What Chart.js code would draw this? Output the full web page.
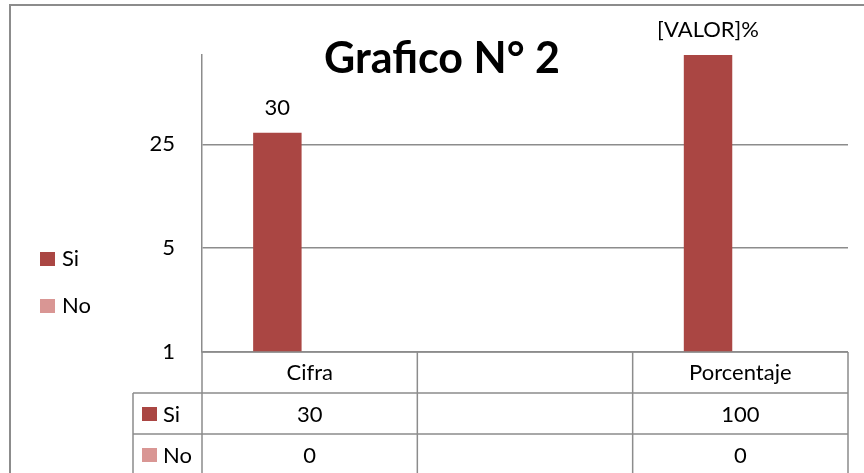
<!DOCTYPE html>
<html>
<head>
<meta charset="utf-8">
<script src="https://cdn.jsdelivr.net/npm/chart.js@4.4.0/dist/chart.umd.min.js"></script>
<style>
html, body { margin: 0; padding: 0; background: #fff; }
</style>
</head>
<body>
<canvas id="chart" width="864" height="473"></canvas>
<script>
// chart data
const categories = ['Cifra', '', 'Porcentaje'];
const siValues = [30, null, 100];
const noValues = [0, null, 0];
const siLabels = ['30', '', '[VALOR]%'];
const yTicks = [1, 5, 25];
const seriesNames = ['Si', 'No'];
const seriesColors = ['#AA4643', '#D99694'];
const titleText = 'Grafico N° 2';

const FONT = 'Lato, Carlito, "Open Sans", sans-serif';
const LINE = '#8C8C8C';
const TXT = 22;

// title, labels, side legend and the data table under the plot
const extras = {
    id: 'extras',
    afterDraw(chart) {
        const ctx = chart.ctx;
        const area = chart.chartArea;
        const x = chart.scales.x;
        ctx.save();

        // outer border
        ctx.strokeStyle = LINE;
        ctx.lineWidth = 2;
        ctx.beginPath();
        ctx.moveTo(10, 473); ctx.lineTo(10, 5); ctx.lineTo(864, 5);
        ctx.stroke();

        // title
        ctx.fillStyle = '#000';
        ctx.textAlign = 'center';
        ctx.textBaseline = 'alphabetic';
        ctx.font = 'bold 43px ' + FONT;
        ctx.fillText(titleText, 442, 73);

        // value labels above bars
        ctx.font = TXT + 'px ' + FONT;
        chart.getDatasetMeta(0).data.forEach((bar, i) => {
            if (siValues[i] == null) return;
            ctx.fillText(siLabels[i], bar.x, bar.y - 18);
        });

        // side legend
        ctx.textAlign = 'left';
        seriesNames.forEach((name, i) => {
            const y = 252 + i * 47;
            ctx.fillStyle = seriesColors[i];
            ctx.fillRect(40, y, 15, 14);
            ctx.fillStyle = '#000';
            ctx.fillText(name, 62, y + 14);
        });

        // data table
        const colW = (area.right - area.left) / categories.length;
        const rows = [area.bottom, area.bottom + 41, area.bottom + 82, 473];
        const tableLeft = 133;
        ctx.strokeStyle = LINE;
        ctx.lineWidth = 1.5;
        ctx.beginPath();
        ctx.moveTo(area.left, rows[0]); ctx.lineTo(area.right, rows[0]);
        ctx.moveTo(tableLeft, rows[1]); ctx.lineTo(area.right, rows[1]);
        ctx.moveTo(tableLeft, rows[2]); ctx.lineTo(area.right, rows[2]);
        ctx.moveTo(tableLeft, rows[1]); ctx.lineTo(tableLeft, rows[3]);
        for (let i = 0; i <= categories.length; i++) {
            const cx = area.left + i * colW;
            ctx.moveTo(cx, rows[0]); ctx.lineTo(cx, rows[3]);
        }
        ctx.stroke();

        ctx.textAlign = 'center';
        ctx.fillStyle = '#000';
        const seriesVals = [siValues, noValues];
        categories.forEach((c, i) => {
            const cx = x.getPixelForValue(i);
            ctx.fillText(c, cx, rows[0] + 28);
            seriesVals.forEach((vals, s) => {
                const v = vals[i];
                ctx.fillText(v == null ? '' : String(v), cx, rows[s + 1] + 29);
            });
        });
        ctx.textAlign = 'left';
        seriesNames.forEach((name, s) => {
            const top = rows[s + 1];
            ctx.fillStyle = seriesColors[s];
            ctx.fillRect(142, top + 14, 15, 14);
            ctx.fillStyle = '#000';
            ctx.fillText(name, 163, top + 29);
        });

        ctx.restore();
    }
};

new Chart(document.getElementById('chart'), {
    type: 'bar',
    data: {
        labels: categories,
        datasets: [
            { label: seriesNames[0], data: siValues, backgroundColor: seriesColors[0] },
            { label: seriesNames[1], data: noValues, backgroundColor: seriesColors[1] }
        ]
    },
    options: {
        responsive: false,
        animation: false,
        categoryPercentage: 0.6,
        barPercentage: 0.75,
        layout: { padding: { left: 142, top: 55, right: 16, bottom: 121 } },
        scales: {
            x: { display: false },
            y: {
                type: 'logarithmic',
                min: 1,
                max: 100,
                afterBuildTicks: s => { s.ticks = yTicks.map(v => ({ value: v })); },
                afterFit: s => { s.width = 60; },
                grid: { color: LINE, lineWidth: 1.5, drawTicks: false },
                border: { display: true, color: LINE, width: 1.5 },
                ticks: {
                    padding: 27,
                    color: '#000',
                    font: { family: FONT, size: TXT },
                    callback: v => String(v)
                }
            }
        },
        plugins: {
            legend: { display: false },
            tooltip: { enabled: false }
        }
    },
    plugins: [extras]
});
</script>
</body>
</html>
